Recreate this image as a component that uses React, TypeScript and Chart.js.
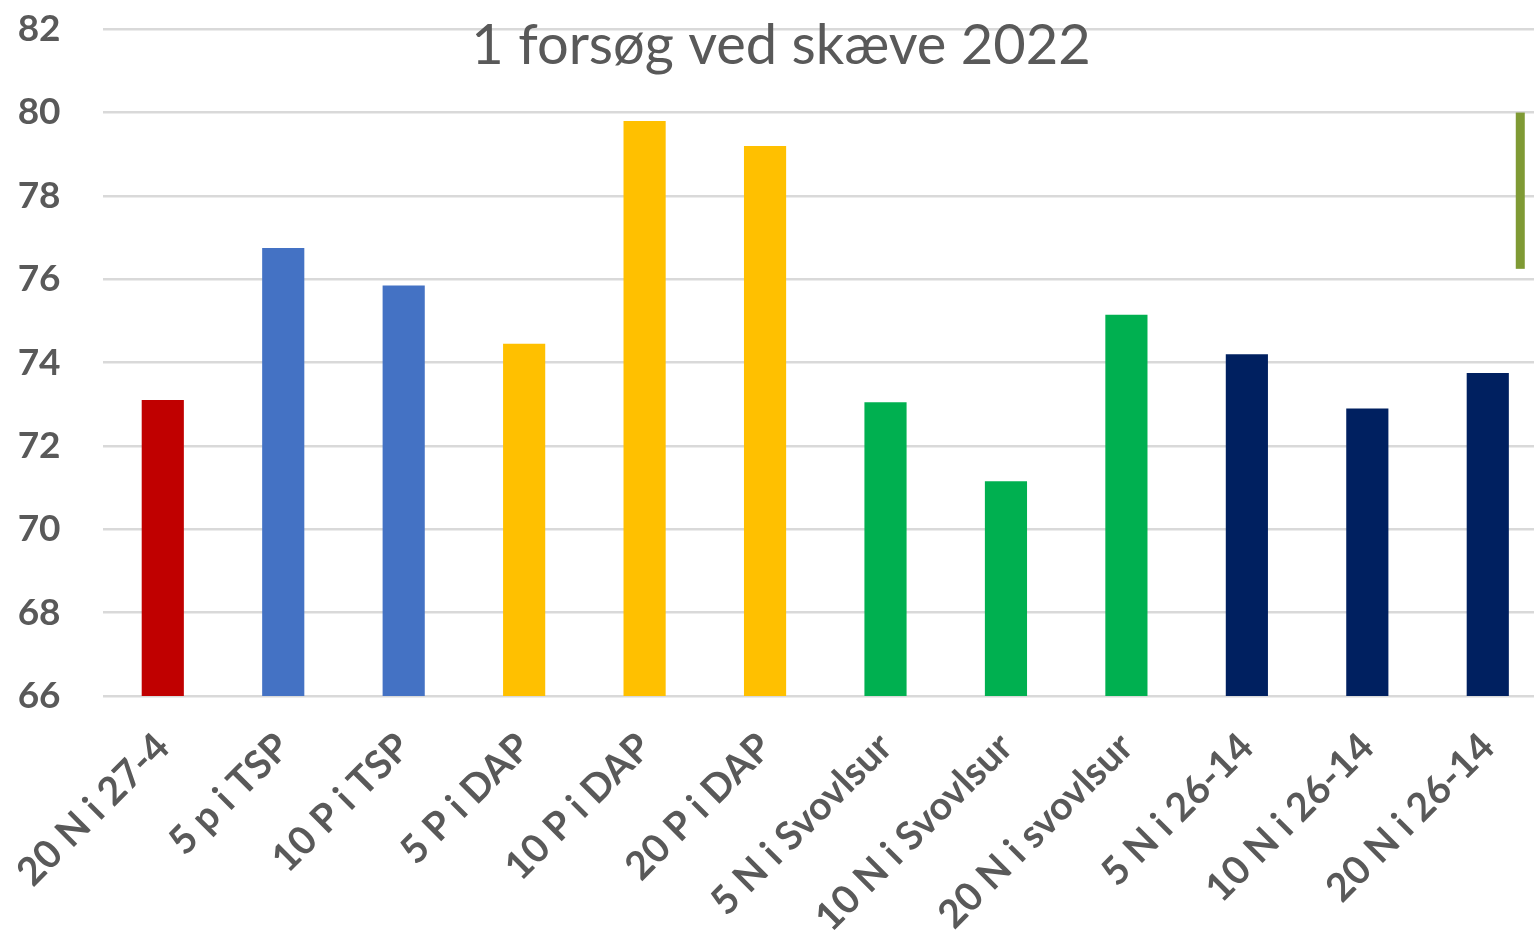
import React, { useEffect, useRef } from "react";
import { Chart, registerables } from "chart.js";

Chart.register(...registerables);

const categories = [
  "20 N i 27-4",
  "5 p i TSP",
  "10 P i TSP",
  "5 P i DAP",
  "10 P i DAP",
  "20 P i DAP",
  "5 N i Svovlsur",
  "10 N i Svovlsur",
  "20 N i svovlsur",
  "5 N i 26-14",
  "10 N i 26-14",
  "20 N i 26-14",
];
const values = [73.1, 76.75, 75.85, 74.45, 79.8, 79.2, 73.05, 71.15, 75.15, 74.2, 72.9, 73.75];
const barColors = [
  "#C00000",
  "#4472C4",
  "#4472C4",
  "#FFC000",
  "#FFC000",
  "#FFC000",
  "#00B050",
  "#00B050",
  "#00B050",
  "#002060",
  "#002060",
  "#002060",
];
const yTicks = [66, 68, 70, 72, 74, 76, 78, 80, 82];
const titleText = "1 forsøg ved skæve 2022";
const markerRange = [76.25, 80];

const TEXT = "#595959";
const FONT = "Lato, 'Open Sans', sans-serif";
const SHIFT = 35;

export default function App() {
  const ref = useRef<HTMLCanvasElement | null>(null);
  useEffect(() => {
    document.body.style.margin = "0";
    document.body.style.overflow = "hidden";
    if (!ref.current) return;
    const titlePlugin = {
      id: "innerTitle",
      afterDraw(chart: any) {
        const ctx = chart.ctx;
        ctx.save();
        ctx.font = `400 56px ${FONT}`;
        ctx.fillStyle = TEXT;
        ctx.textAlign = "center";
        ctx.textBaseline = "middle";
        ctx.fillText(titleText, 781, 46 + SHIFT);
        ctx.restore();
      },
    };
    const markerPlugin = {
      id: "marker",
      afterDatasetsDraw(chart: any) {
        const ctx = chart.ctx;
        const xs = chart.scales.x;
        const ys = chart.scales.y;
        const x = xs.getPixelForValue(categories.length - 1) + 32;
        const y1 = ys.getPixelForValue(markerRange[1]);
        const y2 = ys.getPixelForValue(markerRange[0]);
        ctx.save();
        ctx.fillStyle = "#7F9A34";
        ctx.fillRect(x - 4, y1, 9, y2 - y1);
        ctx.restore();
      },
    };
    const chart = new Chart(ref.current, {
      type: "bar",
      data: {
        labels: categories,
        datasets: [
          {
            data: values,
            backgroundColor: barColors,
            borderWidth: 0,
            barPercentage: 0.35,
            categoryPercentage: 1,
          },
        ],
      },
      options: {
        responsive: false,
        animation: false,
        layout: { padding: { top: 0, right: 2, left: 0, bottom: 0 } },
        plugins: {
          legend: { display: false },
          tooltip: { enabled: false },
          title: { display: false },
        },
        scales: {
          x: {
            offset: true,
            grid: { display: false },
            border: { display: false },
            ticks: {
              autoSkip: false,
              maxRotation: 45,
              minRotation: 45,
              color: TEXT,
              padding: 20,
              font: { family: FONT, size: 39, weight: "bold" },
            },
            afterFit(scale: any) {
              scale.height = 248;
            },
          },
          y: {
            min: 66,
            max: 82,
            afterBuildTicks(scale: any) {
              scale.ticks = yTicks.map((v) => ({ value: v }));
            },
            grid: { color: "#D9D9D9", lineWidth: 2.5, drawTicks: false },
            border: { display: false },
            ticks: {
              color: TEXT,
              padding: 42,
              font: { family: FONT, size: 37, weight: "bold" },
            },
            afterFit(scale: any) {
              scale.width = 100;
            },
          },
        },
      },
      plugins: [titlePlugin, markerPlugin],
    });
    return () => chart.destroy();
  }, []);
  return (
    <div style={{ width: 1550, height: 944, overflow: "hidden" }}>
      <canvas
        ref={ref}
        width={1550}
        height={944 + SHIFT}
        style={{ display: "block", marginTop: -SHIFT }}
      />
    </div>
  );
}
